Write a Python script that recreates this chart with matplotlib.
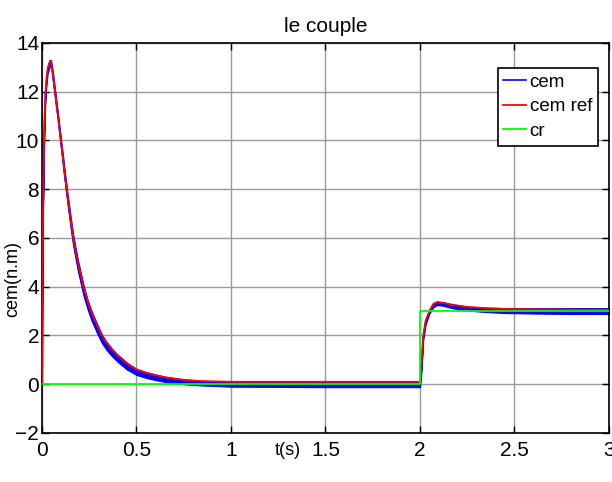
import numpy as np
import matplotlib
matplotlib.use("Agg")
import matplotlib.pyplot as plt
import matplotlib.transforms as mtransforms

# --- DATA --------------------------------------------------------------------
t_ref   = [0, 0.002, 0.005, 0.008, 0.011, 0.015, 0.019, 0.025, 0.03, 0.04, 0.048,
           0.058, 0.069, 0.085, 0.1, 0.117, 0.134, 0.153, 0.166, 0.19, 0.219,
           0.24, 0.26, 0.29, 0.316, 0.34, 0.37, 0.4, 0.45, 0.5, 0.55, 0.6, 0.66,
           0.75, 0.84, 1.0, 1.5, 1.999,
           2.0, 2.005, 2.01, 2.017, 2.03, 2.05, 2.07, 2.09, 2.12, 2.17, 2.25,
           2.35, 2.45, 2.6, 2.8, 3.0]
cem_ref = [0, 4.0, 7.0, 8.5, 10.0, 11.2, 12.0, 12.6, 12.95, 13.2, 13.25,
           12.7, 12.0, 11.0, 10.0, 8.9, 7.8, 6.7, 6.0, 5.0, 4.0,
           3.45, 3.0, 2.45, 2.0, 1.72, 1.42, 1.18, 0.85, 0.6, 0.47, 0.37, 0.27,
           0.18, 0.13, 0.1, 0.1, 0.1,
           0.1, 0.4, 1.0, 2.0, 2.6, 3.0, 3.28, 3.36, 3.34, 3.26, 3.17,
           3.12, 3.09, 3.07, 3.06, 3.05]

# cem : noisy measured torque, given as upper / lower envelope
cem_hi  = [0, 4.1, 7.1, 8.6, 10.1, 11.3, 12.1, 12.7, 13.05, 13.3, 13.3,
           12.8, 12.1, 11.1, 10.1, 9.0, 7.9, 6.8, 6.1, 5.1, 4.1,
           3.5, 3.05, 2.5, 2.05, 1.76, 1.46, 1.22, 0.88, 0.63, 0.5, 0.4, 0.3,
           0.2, 0.14, 0.1, 0.1, 0.1,
           0.1, 0.4, 1.0, 2.0, 2.6, 3.05, 3.33, 3.4, 3.37, 3.28, 3.19,
           3.14, 3.12, 3.12, 3.12, 3.12]
cem_lo  = [0, 3.8, 6.8, 8.3, 9.8, 11.0, 11.8, 12.4, 12.75, 13.0, 13.1,
           12.5, 11.8, 10.8, 9.8, 8.6, 7.5, 6.35, 5.65, 4.65, 3.65,
           3.1, 2.65, 2.12, 1.7, 1.42, 1.15, 0.92, 0.6, 0.38, 0.26, 0.17, 0.08,
           0.0, -0.05, -0.1, -0.12, -0.12,
           -0.12, 0.2, 0.8, 1.8, 2.45, 2.9, 3.15, 3.25, 3.22, 3.12, 3.02,
           2.96, 2.92, 2.9, 2.88, 2.88]

t_cr = [0, 2.0, 2.0, 3.0]
cr   = [0, 0, 3.0, 3.0]

xticks = [0, 0.5, 1, 1.5, 2, 2.5, 3]
yticks = [-2, 0, 2, 4, 6, 8, 10, 12, 14]

# --- STYLE -------------------------------------------------------------------
plt.rcParams["font.family"] = ["Liberation Sans", "DejaVu Sans"]

fig = plt.figure(figsize=(6.12, 4.82), dpi=100)
ax = fig.add_axes([0.0686, 0.1017, 0.9264, 0.8093])

cem_mid = (np.array(cem_hi) + np.array(cem_lo)) / 2
ax.fill_between(t_ref, cem_lo, cem_hi, color="#0000ff", lw=0.8, zorder=2)
ax.plot(t_ref, cem_mid, color="#0000ff", lw=1.2, label="cem", zorder=2)
ax.plot(t_ref, cem_ref, color="#ff0000", lw=1.3, label="cem ref", zorder=3)
ax.plot(t_cr, cr, color="#00ff00", lw=1.3, label="cr", zorder=4)

ax.set_xlim(0, 3)
ax.set_ylim(-2, 14)
ax.set_xticks(xticks)
ax.set_xticklabels([f"{v:g}" for v in xticks])
ax.set_yticks(yticks)
ax.set_yticklabels([f"{v:g}".replace("-", "\u2212") for v in yticks])
ax.tick_params(direction="in", length=5, width=1, top=True, right=True,
               labelsize=15, colors="black")
ax.tick_params(axis="x", pad=6)
ax.tick_params(axis="y", pad=2)
ax.grid(True, color="#9a9a9a", lw=1)
ax.set_axisbelow(True)
for s in ax.spines.values():
    s.set_linewidth(1.2)

ax.set_title("le couple", fontsize=15, pad=8)
ax.set_ylabel("cem(n.m)", fontsize=13)
ax.yaxis.set_label_coords(-0.037, 0.395)
trans = mtransforms.blended_transform_factory(ax.transData, ax.transAxes)
ax.text(1.30, -0.022, "t(s)", transform=trans, ha="center", va="top", fontsize=13)

leg = ax.legend(loc="upper right", bbox_to_anchor=(0.9766, 0.859),
                bbox_transform=fig.transFigure, borderaxespad=0,
                fontsize=13.5, frameon=True, fancybox=False, handlelength=1.2,
                handletextpad=0.2, labelspacing=0.4, borderpad=0.3)
leg.get_frame().set_edgecolor("black")
leg.get_frame().set_linewidth(1.2)
leg.get_frame().set_alpha(1)

plt.savefig("out.png", dpi=100)
